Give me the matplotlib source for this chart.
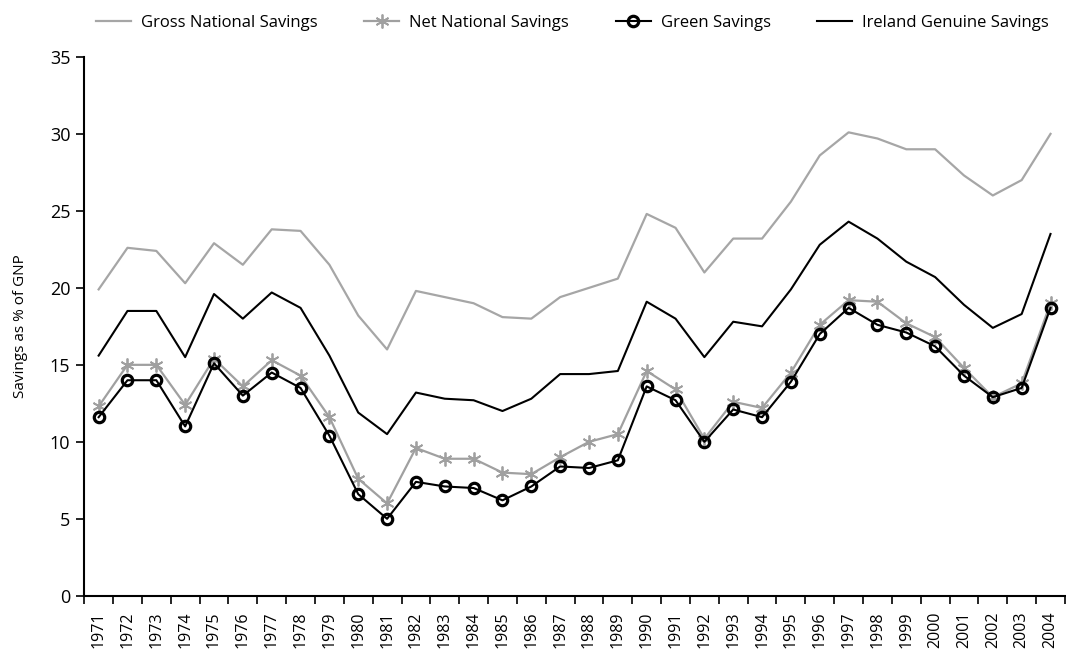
import matplotlib
matplotlib.use("Agg")
import matplotlib.pyplot as plt
import numpy as np

years = [str(y) for y in range(1971, 2005)]
gross = [19.9, 22.6, 22.4, 20.3, 22.9, 21.5, 23.8, 23.7, 21.5, 18.2, 16.0,
         19.8, 19.4, 19.0, 18.1, 18.0, 19.4, 20.0, 20.6, 24.8, 23.9, 21.0,
         23.2, 23.2, 25.6, 28.6, 30.1, 29.7, 29.0, 29.0, 27.3, 26.0, 27.0, 30.0]
net = [12.3, 15.0, 15.0, 12.4, 15.4, 13.6, 15.3, 14.3, 11.6, 7.6, 6.0,
       9.6, 8.9, 8.9, 8.0, 7.9, 9.0, 10.0, 10.5, 14.6, 13.4, 10.2,
       12.6, 12.2, 14.5, 17.6, 19.2, 19.1, 17.7, 16.8, 14.8, 12.9, 13.8, 19.0]
green = [11.6, 14.0, 14.0, 11.0, 15.1, 13.0, 14.5, 13.5, 10.4, 6.6, 5.0,
         7.4, 7.1, 7.0, 6.2, 7.1, 8.4, 8.3, 8.8, 13.6, 12.7, 10.0,
         12.1, 11.6, 13.9, 17.0, 18.7, 17.6, 17.1, 16.2, 14.3, 12.9, 13.5, 18.7]
genuine = [15.6, 18.5, 18.5, 15.5, 19.6, 18.0, 19.7, 18.7, 15.6, 11.9, 10.5,
           13.2, 12.8, 12.7, 12.0, 12.8, 14.4, 14.4, 14.6, 19.1, 18.0, 15.5,
           17.8, 17.5, 19.9, 22.8, 24.3, 23.2, 21.7, 20.7, 18.9, 17.4, 18.3, 23.5]

plt.rcParams['font.family'] = ['Open Sans', 'DejaVu Sans']

fig = plt.figure(figsize=(10.66, 6.54), dpi=100)
ax = fig.add_axes([0.079, 0.089, 0.92, 0.824])

x = np.arange(len(years))
l1, = ax.plot(x, gross, color='#a6a6a6', lw=1.6, label='Gross National Savings')
l2, = ax.plot(x, net, color='#a0a0a0', lw=1.6, marker=(6, 2, 0), markersize=10,
              markeredgewidth=1.3, label='Net National Savings')
l4, = ax.plot(x, genuine, color='black', lw=1.5, label='Ireland Genuine Savings')
l3, = ax.plot(x, green, color='black', lw=1.5, marker='o', markersize=7.5,
              markerfacecolor='none', markeredgewidth=2.3, label='Green Savings')

ax.set_xlim(-0.5, len(years) - 0.5)
ax.set_ylim(0, 35)
ax.set_yticks(range(0, 36, 5))
ax.set_xticks(x)
ax.set_xticklabels(years, rotation=90, fontsize=11.5)
ax.set_xticks(np.arange(-0.5, len(years), 1), minor=True)
ax.tick_params(axis='x', which='major', length=0, pad=11)
ax.tick_params(axis='x', which='minor', length=6, width=1.2, color='black')
ax.tick_params(axis='y', length=6, width=1.2, labelsize=13, pad=4)

for s in ['top', 'right']:
    ax.spines[s].set_visible(False)
for s in ['left', 'bottom']:
    ax.spines[s].set_linewidth(1.5)
    ax.spines[s].set_color('black')

ax.set_ylabel('Savings as % of GNP', fontsize=11, labelpad=16)

fig.legend(handles=[l1, l2, l3, l4], loc='upper center', bbox_to_anchor=(0.537, 1.0),
           ncol=4, frameon=False, fontsize=12, columnspacing=2.8, handlelength=2.1,
           handletextpad=0.6)

fig.savefig('out.png', dpi=100)
